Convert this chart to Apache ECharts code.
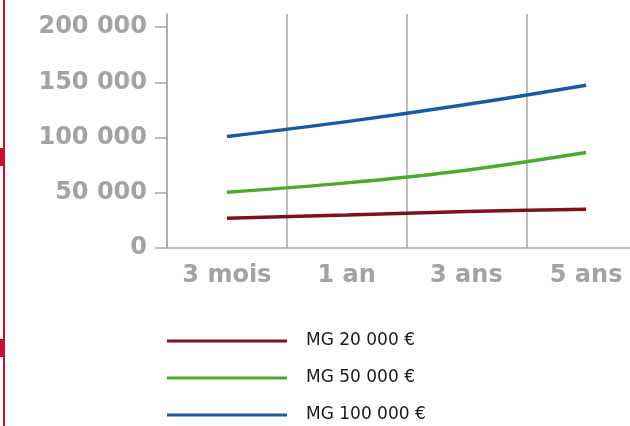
<!DOCTYPE html>
<html>
<head>
<meta charset="utf-8">
<script src="https://cdn.jsdelivr.net/npm/echarts@6/dist/echarts.min.js"></script>
<style>html,body{margin:0;padding:0;background:#fff}#c{width:630px;height:426px}</style>
</head>
<body>
<div id="c"></div>
<script>
const categories = ['3 mois', '1 an', '3 ans', '5 ans'];
const seriesNames = ['MG 20 000 €', 'MG 50 000 €', 'MG 100 000 €'];
const mg20 = [27000, 29800, 33000, 35000];
const mg50 = [50500, 59000, 70500, 86500];
const mg100 = [101000, 114500, 130000, 147500];
const yTicks = [0, 50000, 100000, 150000, 200000];

const colors = ['#7d111c', '#4caa2d', '#1a5aa1'];
const axisGray = '#a8a8a8';
const labelGray = '#a3a3a3';

const chart = echarts.init(document.getElementById('c'), null, {renderer: 'canvas'});
chart.setOption({
  animation: false,
  backgroundColor: '#fff',
  grid: {left: 167, top: 14, width: 479, height: 234, containLabel: false, outerBoundsMode: 'none'},
  graphic: [
    {type: 'rect', left: 3, top: 0, shape: {width: 2, height: 426}, style: {fill: '#c8102e'}, silent: true},
    {type: 'rect', left: 0, top: 148, shape: {width: 4, height: 18}, style: {fill: '#c8102e'}, silent: true},
    {type: 'rect', left: 0, top: 339, shape: {width: 4, height: 18}, style: {fill: '#c8102e'}, silent: true}
  ],
  xAxis: {
    type: 'category',
    data: categories,
    boundaryGap: true,
    axisLine: {show: true, lineStyle: {color: axisGray, width: 1.5}},
    axisTick: {show: false},
    splitLine: {show: true, interval: 0, lineStyle: {color: axisGray, width: 1.5}},
    axisLabel: {
      interval: 0, margin: 16, color: labelGray,
      fontFamily: 'DejaVu Sans', fontWeight: 'bold', fontSize: 24
    }
  },
  yAxis: {
    type: 'value',
    min: 0, max: 212000, interval: 50000,
    axisLine: {show: true, lineStyle: {color: axisGray, width: 1.5}},
    axisTick: {show: true, length: 12, customValues: yTicks, lineStyle: {color: axisGray, width: 1.5}},
    splitLine: {show: false},
    axisLabel: {
      customValues: yTicks,
      margin: 20, color: labelGray,
      fontFamily: 'DejaVu Sans', fontWeight: 'bold', fontSize: 24,
      formatter: v => String(v).replace(/\B(?=(\d{3})+(?!\d))/g, ' ')
    }
  },
  legend: {
    orient: 'vertical', left: 167, top: 331, padding: 0,
    icon: 'rect', itemWidth: 120, itemHeight: 3, itemGap: 17,
    data: seriesNames,
    textStyle: {fontFamily: 'DejaVu Sans', fontSize: 17, color: '#1a1a1a', lineHeight: 20, padding: [0, 0, 0, 14]}
  },
  series: [
    {name: seriesNames[0], type: 'line', data: mg20, smooth: 0.35, showSymbol: false, color: colors[0], lineStyle: {width: 3.5, color: colors[0]}},
    {name: seriesNames[1], type: 'line', data: mg50, smooth: 0.35, showSymbol: false, color: colors[1], lineStyle: {width: 3.5, color: colors[1]}},
    {name: seriesNames[2], type: 'line', data: mg100, smooth: 0.35, showSymbol: false, color: colors[2], lineStyle: {width: 3.5, color: colors[2]}}
  ]
});
</script>
</body>
</html>
